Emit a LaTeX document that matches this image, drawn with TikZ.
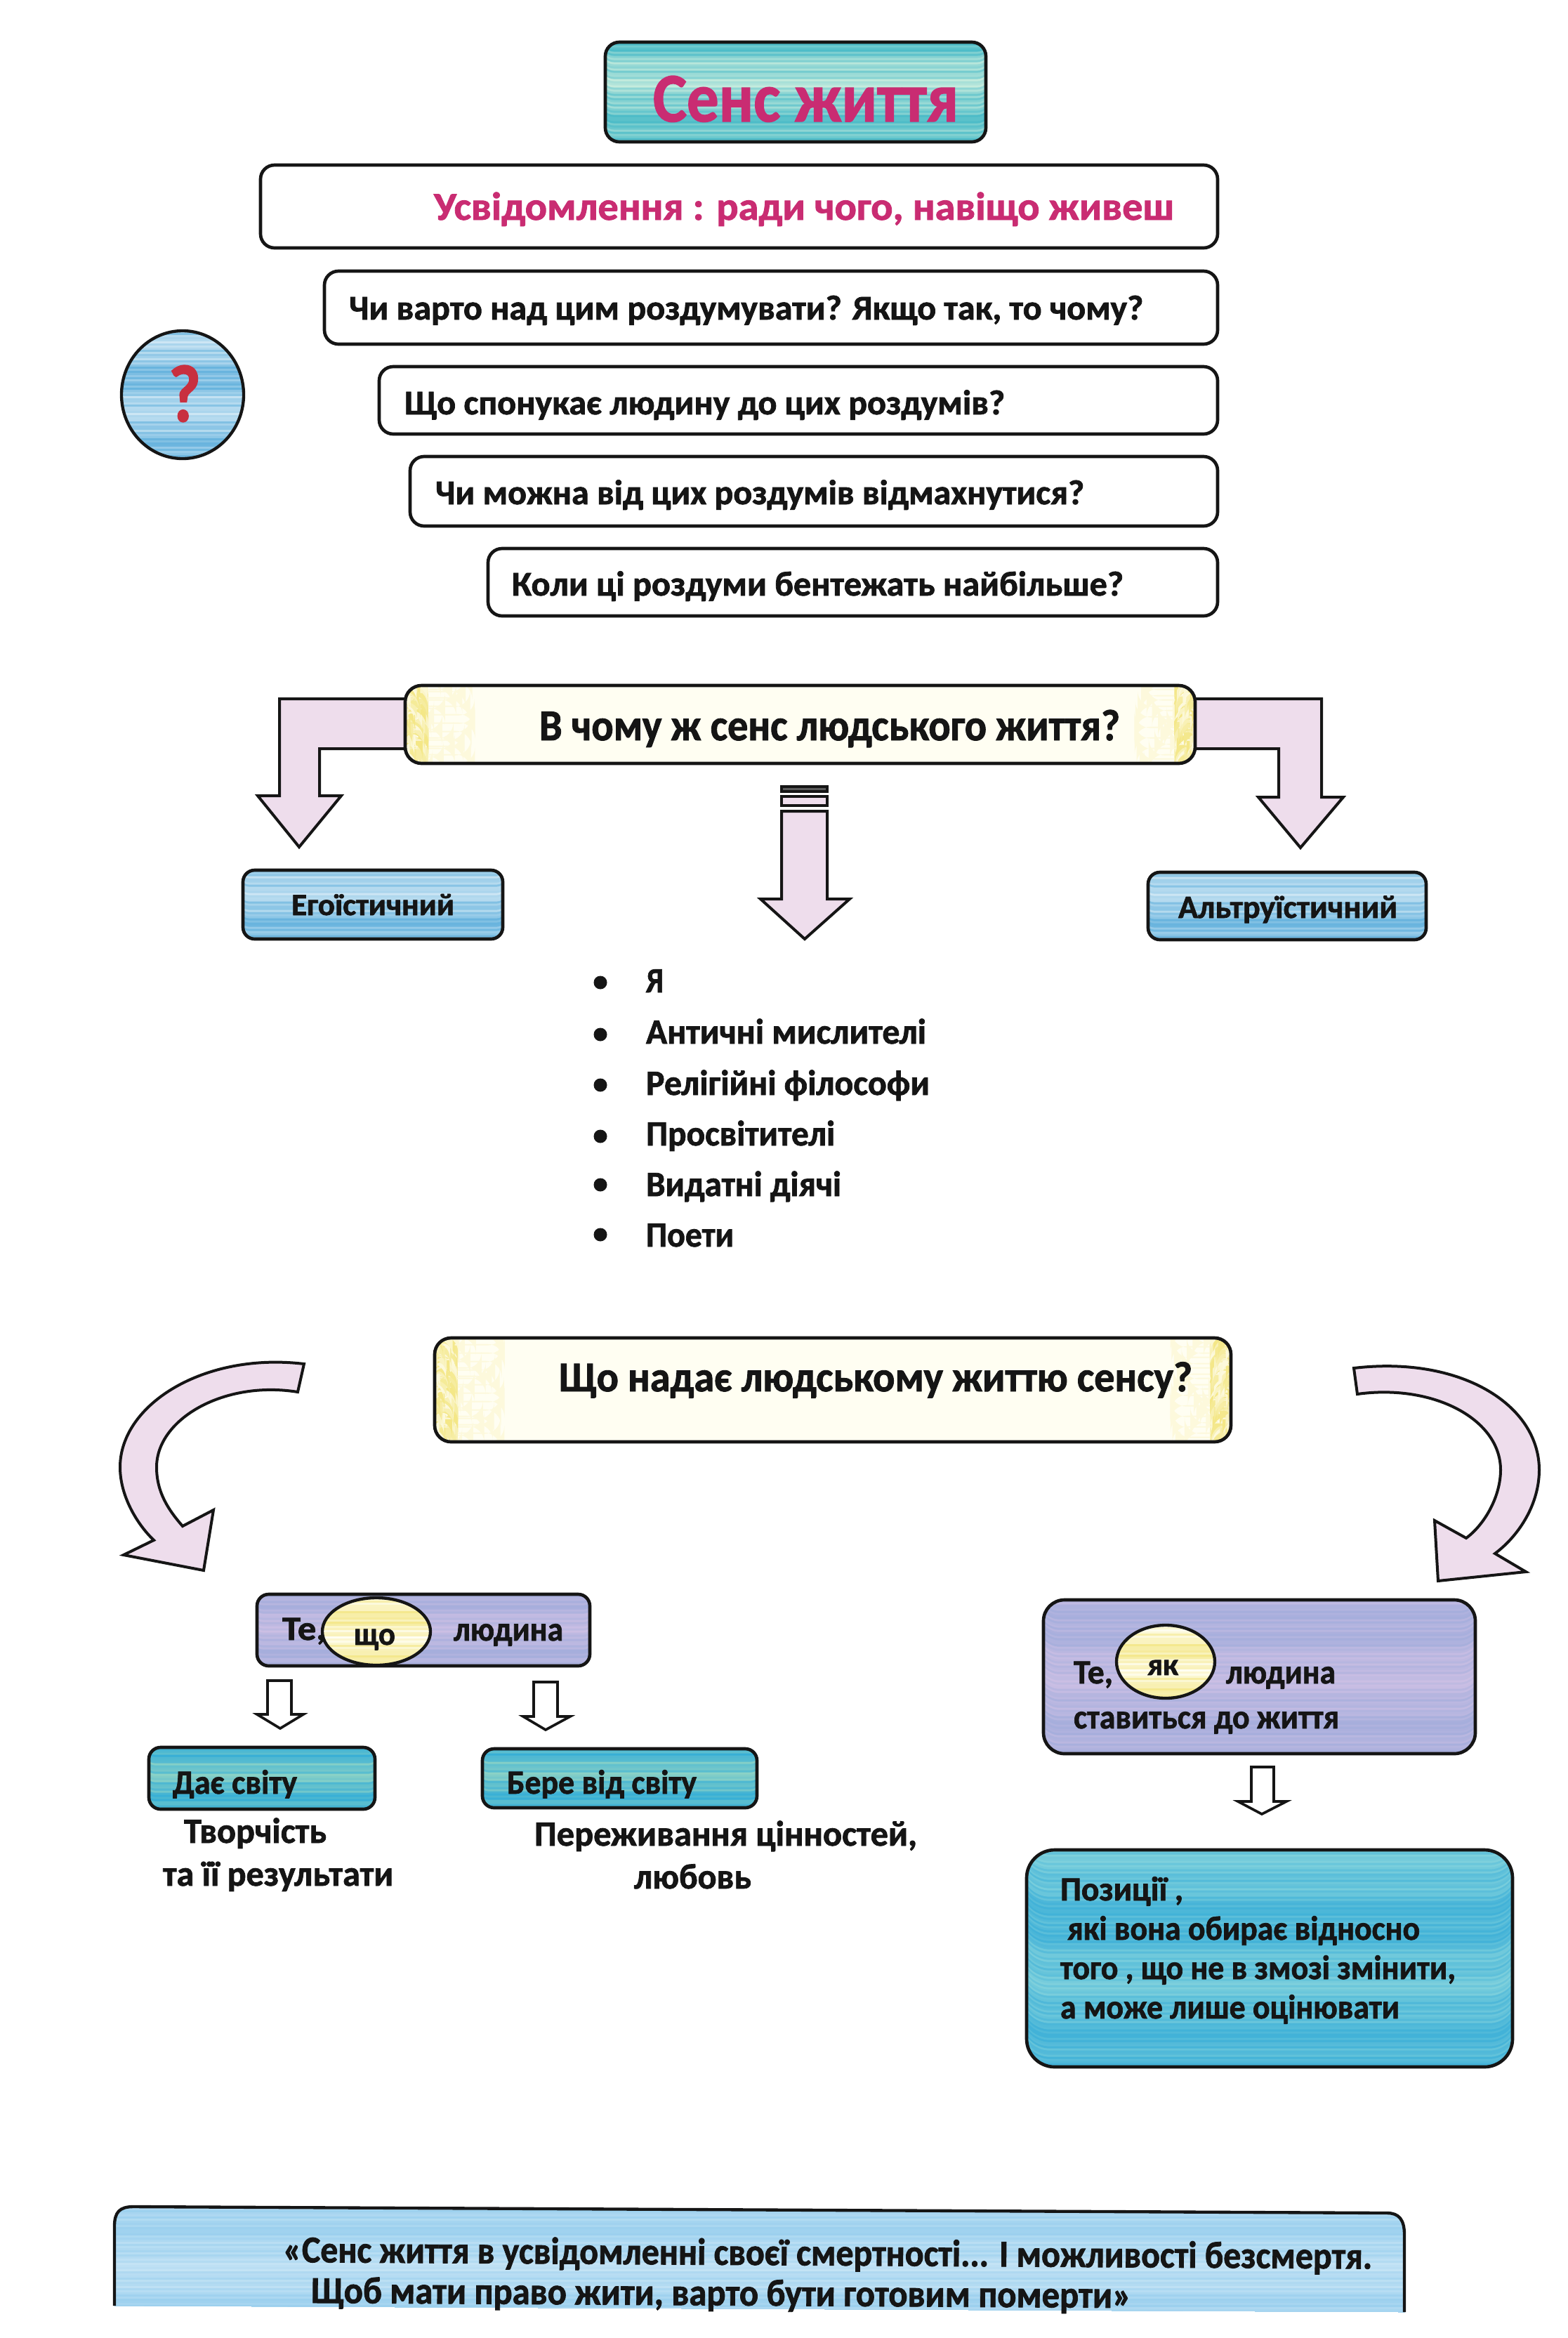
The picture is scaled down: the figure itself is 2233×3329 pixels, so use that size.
\documentclass[tikz,border=0pt]{standalone}
\usepackage{fontspec}
\usepackage{graphicx}
\setmainfont{Carlito}[BoldFeatures={FakeBold=1.5}]
\usetikzlibrary{shapes.geometric}
\definecolor{inkc}{HTML}{151515}
\definecolor{magc}{HTML}{C92C72}
\definecolor{redc}{HTML}{C8303F}
\definecolor{pinkc}{HTML}{EEDDEC}
\definecolor{yelc}{HTML}{F2E47A}
\definecolor{yelb}{HTML}{FFFEF2}
\definecolor{tealA}{HTML}{4DBCC8}
\definecolor{tealB}{HTML}{C4EBDD}
\definecolor{blueA}{HTML}{69B4DE}
\definecolor{blueB}{HTML}{CDE6F4}
\definecolor{purpA}{HTML}{A6AEDC}
\definecolor{purpB}{HTML}{CBBFE4}
\definecolor{cyanA}{HTML}{38AFD6}
\definecolor{cyanB}{HTML}{8CD2C6}
\definecolor{cyanC}{HTML}{42B2D8}
\definecolor{cyanD}{HTML}{7ED0DC}
\definecolor{paleA}{HTML}{9CD0EE}
\definecolor{paleB}{HTML}{C4E3F5}
\newdimen\pbw \newdimen\pbh
\newsavebox\tb
\newcommand\stripefill[3]{%
  \pgfextractx{\pbw}{\pgfpointanchor{path picture bounding box}{north east}}%
  \pgfextracty{\pbh}{\pgfpointanchor{path picture bounding box}{north east}}%
  \pgfmathsetmacro\ww{abs(\pbw)+2}%
  \pgfmathsetmacro\hh{abs(\pbh)+2}%
  \pgfmathtruncatemacro\nn{2*\hh/0.9}%
  \begin{scope}[x=1pt,y=1pt]
    \foreach \k in {0,...,\nn}{%
      \pgfmathsetmacro\yy{-\hh+\k*0.9}%
      \pgfmathtruncatemacro\rr{max(0,min(100,55+30*sin(\k*#3*0.8)+16*sin(\k*#3*3+40)+24*sin(\k*137)))}%
      \fill[#1!\rr!#2] (-\ww,\yy) rectangle (\ww,\hh+1);
    }
  \end{scope}}
\newcommand\yellowfill{%
  \pgfextractx{\pbw}{\pgfpointanchor{path picture bounding box}{north east}}%
  \pgfextracty{\pbh}{\pgfpointanchor{path picture bounding box}{north east}}%
  \pgfmathsetmacro\ww{abs(\pbw)+2}%
  \pgfmathsetmacro\hh{abs(\pbh)+2}%
  \pgfmathtruncatemacro\nn{2*\hh/0.9}%
  \begin{scope}[x=1pt,y=1pt]
    \fill[yelb] (-\ww,-\hh) rectangle (\ww,\hh);
    \foreach \k in {0,...,\nn}{%
      \pgfmathsetmacro\yy{-\hh+\k*0.9}%
      \pgfmathsetmacro\sa{abs(sin(\k*47))}%
      \pgfmathsetmacro\sb{abs(sin(\k*71))}%
      \pgfmathsetmacro\la{2+30*\sa*\sa*\sa}%
      \pgfmathsetmacro\lb{2+26*\sb*\sb*\sb}%
      \pgfmathsetmacro\lc{2+10*\sb}%
      \pgfmathsetmacro\ld{2+9*\sa}%
      \pgfmathtruncatemacro\rr{20+70*abs(sin(\k*83))}%
      \fill[yelc!18!yelb] (-\ww,\yy) rectangle (-\ww+\la,\yy+0.6);
      \fill[yelc!18!yelb] (\ww,\yy) rectangle (\ww-\lb,\yy+0.6);
      \fill[yelc!\rr!yelb] (-\ww,\yy) rectangle (-\ww+\lc,\yy+0.6);
      \fill[yelc!\rr!yelb] (\ww,\yy) rectangle (\ww-\ld,\yy+0.6);
    }
  \end{scope}}
\tikzset{
  boxbase/.style={draw=inkc,line width=1.4pt,rectangle,rounded corners=6pt,inner sep=0pt,outer sep=0pt,fill=white},
  oval/.style={ellipse,draw=inkc,line width=1.3pt,inner sep=0pt,outer sep=0pt},
  stripes/.style n args={3}{path picture={\stripefill{#1}{#2}{#3}}},
  yellowband/.style={path picture={\yellowfill}},
  blockarrow/.style={draw=inkc,line width=1.2pt,fill=pinkc,line join=miter},
  hollowarrow/.style={draw=inkc,line width=1.1pt,fill=white,line join=miter},
  bullet/.style={circle,fill=inkc,inner sep=0pt,minimum size=5.7pt},
}
\newcommand\drbox[6][]{%
  \node[boxbase,#1,minimum width={(#5-#3)*0.3pt},minimum height={(#6-#4)*0.3pt}] (#2) at ({(#3+#5)/2},{(#4+#6)/2}) {};}
\newcommand\drell[6][]{%
  \node[oval,#1,minimum width={(#5-#3)*0.3pt},minimum height={(#6-#4)*0.3pt}] (#2) at ({(#3+#5)/2},{(#4+#6)/2}) {};}
\newcommand\tx[6][inkc]{%
  \pgfmathsetmacro\fs{#5*0.33}%
  \node[anchor=base west,inner sep=0pt,outer sep=0pt,text=#1] (#2) at (#3) {%
    \fontsize{\fs pt}{\fs pt}\selectfont\bfseries
    \sbox\tb{#6}%
    \pgfmathsetmacro\fx{#4*0.3/\the\wd\tb}%
    \scalebox{\fx}[1]{\usebox\tb}};}
\begin{document}
\begin{tikzpicture}[x=0.3pt,y=-0.3pt]
\useasboundingbox (0,0) rectangle (2233,3329);
\fill[white] (0,0) rectangle (2233,3329);
% top group
\drbox[stripes={tealA}{tealB}{11}]{title}{862}{60}{1404}{202}
\drbox{b1}{371}{235}{1734}{353}
\drbox{b2}{462}{386}{1734}{490}
\drbox{b3}{540}{522}{1734}{618}
\drbox{b4}{584}{650}{1734}{749}
\drbox{b5}{695}{781}{1734}{877}
\drell[stripes={blueA}{blueB}{14}]{qc}{173}{471}{347}{653}
\tx[magc]{ttitle}{930,173}{435}{90}{Сенс життя}
\tx[magc]{tb1}{618,313}{1054}{51}{Усвідомлення : ради чого, навіщо живеш}
\tx{tb2}{497,455}{1131}{45}{Чи варто над цим роздумувати? Якщо так, то чому?}
\tx{tb3}{576,590}{855}{45}{Що спонукає людину до цих роздумів?}
\tx{tb4}{620,718}{924}{45}{Чи можна від цих роздумів відмахнутися?}
\tx{tb5}{729,848}{871}{45}{Коли ці роздуми бентежать найбільше?}
\tx[redc]{tq}{240,600}{46}{105}{?}
% second group arrows
\draw[blockarrow] (600,995) -- (398,995) -- (398,1133) -- (367,1133) -- (426,1206) -- (486,1133) -- (455,1133) -- (455,1066) -- (600,1066);
\draw[blockarrow] (1680,995) -- (1882,995) -- (1882,1135) -- (1913,1135) -- (1852,1207) -- (1792,1135) -- (1821,1135) -- (1821,1066) -- (1680,1066);
\draw[blockarrow] (1113,1155) -- (1113,1280) -- (1083,1280) -- (1146,1337) -- (1210,1280) -- (1178,1280) -- (1178,1155) -- cycle;
\draw[blockarrow,line width=1.1pt,fill=inkc!70] (1113,1120) rectangle (1178,1127);
\draw[blockarrow,line width=1.1pt] (1113,1134) rectangle (1178,1147);
\drbox[yellowband,rounded corners=7pt]{q1}{577}{976}{1702}{1087}
\tx{tq1}{768,1054}{827}{57}{В чому ж сенс людського життя?}
\drbox[stripes={blueA}{blueB}{14},rounded corners=5pt]{ego}{346}{1239}{716}{1337}
\drbox[stripes={blueA}{blueB}{14},rounded corners=5pt]{alt}{1635}{1242}{2031}{1338}
\tx{tego}{415,1303}{232}{40}{Егоїстичний}
\tx{talt}{1678,1307}{312}{42}{Альтруїстичний}
% list
\foreach \nm/\yy in {a/1399,b/1473,c/1545,d/1618,e/1687,f/1758}{\node[bullet] (bul\nm) at (855,\yy) {};}
\tx{la}{920,1413}{25}{46}{Я}
\tx{lb}{920,1486}{399}{46}{Античні мислителі}
\tx{lc}{920,1559}{404}{46}{Релігійні філософи}
\tx{ld}{920,1631}{269}{46}{Просвітителі}
\tx{le}{920,1703}{278}{46}{Видатні діячі}
\tx{lf}{920,1775}{125}{46}{Поети}
% third group
\drbox[yellowband,rounded corners=7pt]{q2}{619}{1905}{1753}{2053}
\tx{tq2}{796,1981}{902}{55}{Що надає людському життю сенсу?}
\draw[blockarrow] (433,1942) .. controls (290,1925) and (171,2000) .. (171,2089) .. controls (171,2130) and (195,2170) .. (219,2193) -- (176,2214) -- (290,2236) -- (304,2150) -- (260,2173) .. controls (240,2150) and (223,2125) .. (223,2089) .. controls (223,2020) and (320,1965) .. (424,1982) -- cycle;
\draw[blockarrow] (1928,1948) .. controls (2080,1930) and (2192,2000) .. (2192,2093) .. controls (2192,2140) and (2165,2185) .. (2129,2212) -- (2173,2238) -- (2048,2251) -- (2043,2165) -- (2088,2190) .. controls (2115,2170) and (2137,2130) .. (2137,2093) .. controls (2137,2020) and (2040,1970) .. (1933,1985) -- cycle;
% left branch
\drbox[stripes={purpA}{purpB}{17},rounded corners=5pt]{wh}{366}{2270}{840}{2372}
\tx{twh}{402,2335}{62}{44}{Те,}
\drell[stripes={yelc!85!white}{yelb}{23}]{ewh}{459}{2275}{613}{2371}
\tx{tsho}{504,2342}{59}{42}{що}
\tx{tlud}{646,2336}{156}{44}{людина}
\draw[hollowarrow] (381,2393) -- (381,2441) -- (366,2441) -- (399,2461) -- (432,2441) -- (415,2441) -- (415,2393) -- cycle;
\draw[hollowarrow] (760,2395) -- (760,2444) -- (745,2444) -- (777,2463) -- (812,2444) -- (794,2444) -- (794,2395) -- cycle;
\drbox[stripes={cyanA}{cyanB}{19},rounded corners=5pt]{give}{212}{2488}{534}{2576}
\drbox[stripes={cyanA}{cyanB}{19},rounded corners=5pt]{take}{687}{2490}{1078}{2574}
\begin{scope}
\clip (212,2488) rectangle (1078,2560);
\tx{tgive}{246,2554}{177}{44}{Дає світу}
\tx{ttake}{722,2554}{270}{44}{Бере від світу}
\end{scope}
\tx{tcr}{262,2624}{203}{46}{Творчість}
\tx{tres}{232,2685}{328}{46}{та її результати}
\tx{tper}{761,2628}{545}{46}{Переживання цінностей,}
\tx{tlub}{903,2689}{167}{46}{любовь}
% right branch
\drbox[stripes={purpA}{purpB}{9},rounded corners=9pt]{how}{1486}{2278}{2101}{2497}
\drell[stripes={yelc!85!white}{yelb}{23}]{ehow}{1590}{2314}{1730}{2418}
\tx{thow}{1529,2397}{56}{44}{Те,}
\tx{tyak}{1634,2385}{44}{40}{як}
\tx{tlud2}{1746,2397}{156}{44}{людина}
\tx{tstav}{1529,2461}{378}{44}{ставиться до життя}
\draw[hollowarrow] (1782,2516) -- (1782,2565) -- (1763,2565) -- (1797,2583) -- (1832,2565) -- (1814,2565) -- (1814,2516) -- cycle;
\drbox[stripes={cyanC}{cyanD}{8},rounded corners=12pt]{pos}{1462}{2634}{2154}{2943}
\tx{tp1}{1510,2706}{175}{44}{Позиції ,}
\tx{tp2}{1520,2762}{502}{44}{які вона обирає відносно}
\tx{tp3}{1510,2818}{563}{44}{того , що не в змозі змінити,}
\tx{tp4}{1510,2874}{483}{44}{а може лише оцінювати}
% bottom band
\begin{scope}
\clip (163,3283) -- (163,3170) .. controls (163,3150) and (170,3142) .. (190,3142) -- (1975,3151) .. controls (1992,3151) and (2000,3160) .. (2000,3182) -- (2000,3292) -- cycle;
\foreach \k in {0,...,54}{%
  \pgfmathsetmacro\yy{3138+\k*3}%
  \pgfmathtruncatemacro\rr{max(0,min(100,55+30*sin(\k*9)+16*sin(\k*33+40)+24*sin(\k*137)))}%
  \fill[paleA!\rr!paleB] (160,\yy) rectangle (2003,3300);
}
\end{scope}
\draw[draw=inkc,line width=1.3pt] (163,3283) -- (163,3170) .. controls (163,3150) and (170,3142) .. (190,3142) -- (1975,3151) .. controls (1992,3151) and (2000,3160) .. (2000,3182) -- (2000,3292);
\begin{scope}[every node/.append style={rotate=-0.35}]
\tx{tq3}{403,3221}{1551}{49}{«Сенс життя в усвідомленні своєї смертності... І можливості безсмертя.}
\tx{tq4}{443,3279}{1168}{49}{Щоб мати право жити, варто бути  готовим померти»}
\end{scope}
\end{tikzpicture}
\end{document}
